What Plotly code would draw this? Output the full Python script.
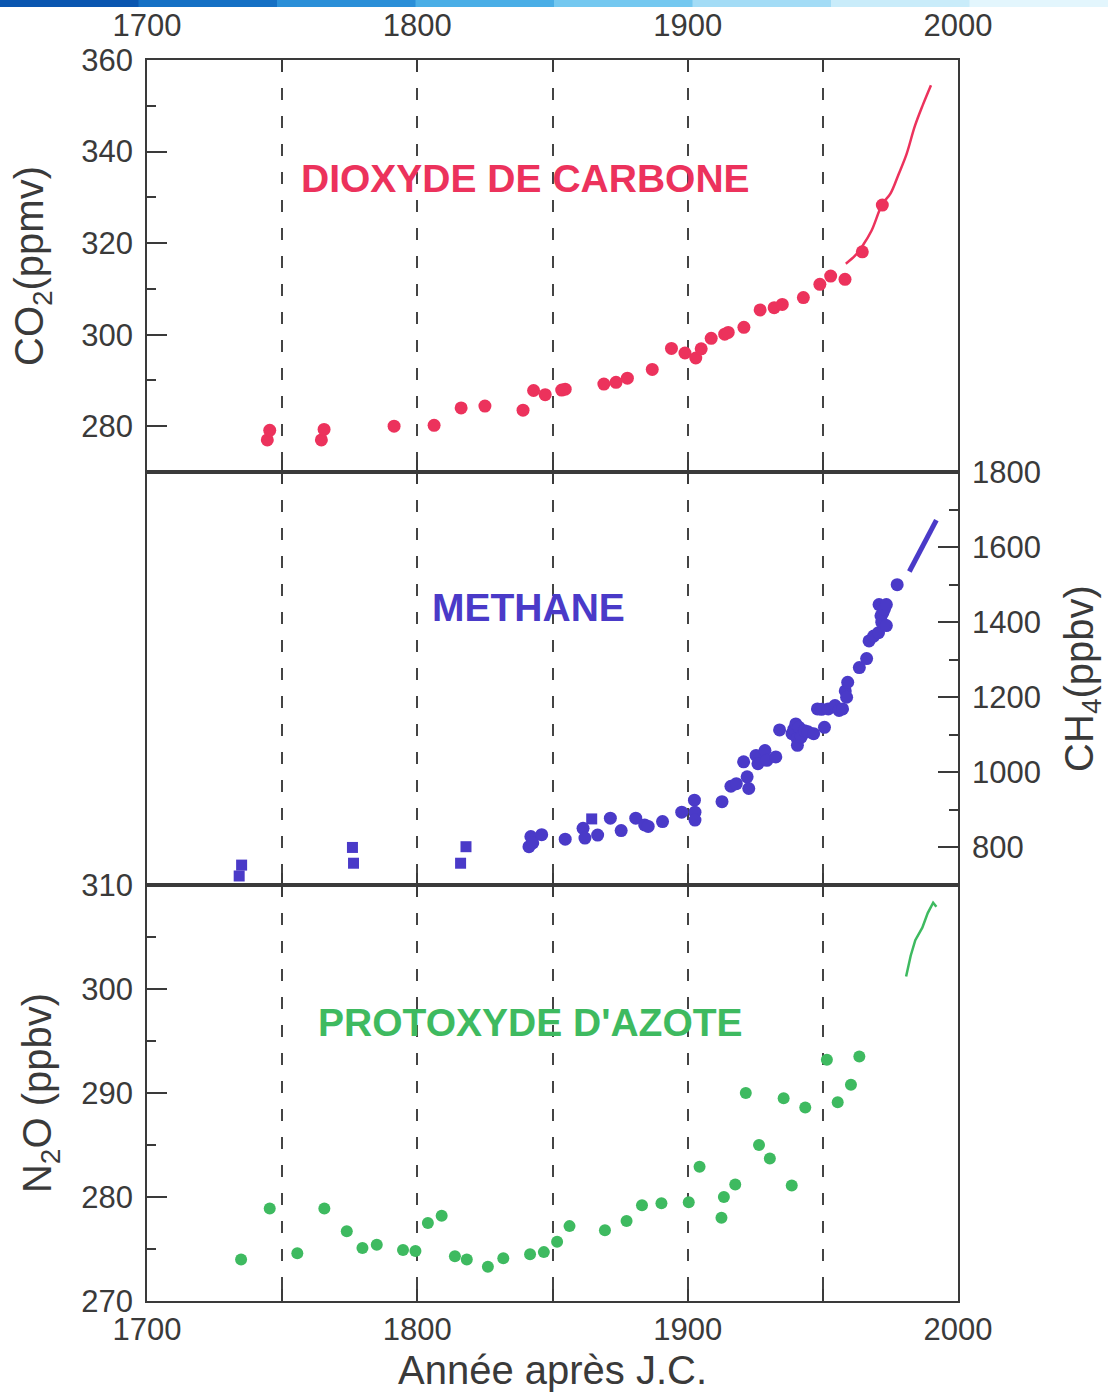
import plotly.graph_objects as go

# ---------------- data ----------------
co2_years = [1744.5, 1745.4, 1764.5, 1765.5, 1791.4, 1806.2, 1816.2, 1825.0, 1839.1, 1843.0,
             1847.3, 1853.4, 1854.7, 1869.0, 1873.5, 1877.7, 1886.9, 1894.0, 1899.0, 1903.0,
             1905.0, 1908.7, 1913.7, 1915.0, 1920.8, 1926.8, 1932.0, 1935.0, 1942.8, 1948.9,
             1952.9, 1958.2, 1964.6, 1972.0]
co2_values = [277.0, 279.1, 277.0, 279.3, 280.0, 280.2, 284.0, 284.4, 283.5, 287.8,
              286.9, 287.9, 288.1, 289.2, 289.6, 290.5, 292.4, 297.0, 296.0, 294.9,
              296.9, 299.2, 300.1, 300.5, 301.6, 305.4, 305.9, 306.6, 308.1, 311.0,
              312.8, 312.1, 318.1, 328.3]
co2_line_years = [1958.5, 1962, 1965, 1968, 1972, 1975, 1978, 1981, 1984, 1987, 1990]
co2_line_values = [315.5, 317.3, 319.7, 322.7, 328.5, 330.8, 335.0, 339.5, 345.5, 350.2, 354.5]

ch4_square_years = [1734.1, 1735.0, 1776.0, 1776.4, 1818.0, 1816.0, 1864.5]
ch4_square_values = [724, 753, 800, 758, 802, 758, 876]
ch4_years = [1841.3, 1842.0, 1842.7, 1846.0, 1854.7, 1861.3, 1862.0, 1866.7, 1871.4, 1875.4,
             1880.8, 1884.1, 1885.4, 1890.7, 1897.8, 1902.5, 1902.7, 1902.7, 1912.7, 1916.0,
             1918.0, 1920.7, 1922.0, 1922.6, 1925.3, 1926.0, 1928.6, 1929.3, 1932.6, 1934.0,
             1938.6, 1939.3, 1940.0, 1940.5, 1940.6, 1941.2, 1942.0, 1943.2, 1944.5, 1946.6,
             1948.0, 1949.5, 1950.6, 1952.0, 1954.5, 1956.0, 1957.3, 1958.3, 1958.8, 1959.2,
             1963.5, 1966.2, 1967.1, 1968.8, 1970.6, 1970.8, 1971.5, 1971.8, 1972.2, 1972.8,
             1973.5, 1973.5, 1977.5]
ch4_values = [802, 829, 812, 834, 822, 851, 825, 833, 878, 845,
              878, 860, 856, 869, 894, 926, 894, 873, 922, 963,
              970, 1028, 988, 957, 1045, 1023, 1058, 1032, 1041, 1113,
              1103, 1115, 1129, 1090, 1072, 1120, 1094, 1111, 1108, 1103,
              1169, 1168, 1120, 1169, 1178, 1165, 1169, 1217, 1200, 1240,
              1279, 1303, 1350, 1363, 1372, 1447, 1417, 1400, 1425, 1435,
              1391, 1447, 1500]
ch4_line_years = [1982, 1984, 1986, 1988, 1990, 1992]
ch4_line_values = [1535, 1562, 1590, 1618, 1645, 1672]

n2o_years = [1734.8, 1745.4, 1755.6, 1765.6, 1773.9, 1779.7, 1785.0, 1794.7, 1799.3, 1803.9,
             1809.0, 1813.9, 1818.3, 1826.1, 1831.8, 1841.7, 1846.8, 1851.7, 1856.3, 1869.4,
             1877.4, 1883.1, 1890.3, 1900.4, 1904.4, 1912.5, 1913.4, 1917.6, 1921.5, 1926.4,
             1930.4, 1935.5, 1938.5, 1943.5, 1951.5, 1955.5, 1960.4, 1963.5]
n2o_values = [274.0, 278.9, 274.6, 278.9, 276.7, 275.1, 275.4, 274.9, 274.8, 277.5,
              278.2, 274.3, 274.0, 273.3, 274.1, 274.5, 274.7, 275.7, 277.2, 276.8,
              277.7, 279.2, 279.4, 279.5, 282.9, 278.0, 280.0, 281.2, 290.0, 285.0,
              283.7, 289.5, 281.1, 288.6, 293.2, 289.1, 290.8, 293.5]
n2o_line_years = [1980.8, 1982.5, 1984.2, 1986.8, 1988.8, 1990.8, 1992.0]
n2o_line_values = [301.2, 303.2, 304.7, 305.9, 307.3, 308.3, 307.9]

x_tickvals = [1700, 1750, 1800, 1850, 1900, 1950, 2000]
x_ticktext = ['1700', '', '1800', '', '1900', '', '2000']
co2_ticks = [280, 300, 320, 340, 360]
ch4_ticks = [800, 1000, 1200, 1400, 1600, 1800]
n2o_ticks = [270, 280, 290, 300, 310]

# ---------------- style ----------------
RED = 'rgb(236,50,92)'
BLUE = 'rgb(74,58,200)'
GREEN = 'rgb(62,186,96)'
AX = '#3a3a3a'
FONT = 'Liberation Sans, Arial, sans-serif'

fig = go.Figure()
fig.add_trace(go.Scatter(x=co2_years, y=co2_values, mode='markers',
                         marker=dict(color=RED, size=13), xaxis='x3', yaxis='y3'))
fig.add_trace(go.Scatter(x=co2_line_years, y=co2_line_values, mode='lines',
                         line=dict(color=RED, width=2.5, shape='spline'), xaxis='x3', yaxis='y3'))
fig.add_trace(go.Scatter(x=ch4_square_years, y=ch4_square_values, mode='markers',
                         marker=dict(color=BLUE, size=11, symbol='square'), xaxis='x2', yaxis='y2'))
fig.add_trace(go.Scatter(x=ch4_years, y=ch4_values, mode='markers',
                         marker=dict(color=BLUE, size=13), xaxis='x2', yaxis='y2'))
fig.add_trace(go.Scatter(x=ch4_line_years, y=ch4_line_values, mode='lines',
                         line=dict(color=BLUE, width=5), xaxis='x2', yaxis='y2'))
fig.add_trace(go.Scatter(x=n2o_years, y=n2o_values, mode='markers',
                         marker=dict(color=GREEN, size=12), xaxis='x', yaxis='y'))
fig.add_trace(go.Scatter(x=n2o_line_years, y=n2o_line_values, mode='lines',
                         line=dict(color=GREEN, width=2.5), xaxis='x', yaxis='y'))

H_PLOT = 1394 - 60 - 93
d1 = 416 / H_PLOT
d2 = (416 + 413) / H_PLOT

common_x = dict(range=[1700, 2000], tickmode='array', tickvals=x_tickvals, ticktext=x_ticktext,
                ticks='inside', ticklen=12, tickwidth=2, tickcolor=AX, automargin=False,
                showline=True, linewidth=1.8, linecolor=AX, mirror='ticks',
                showgrid=True, gridcolor='#444', gridwidth=1.5, griddash='12px,16px',
                zeroline=False, tickfont=dict(size=31, color=AX, family=FONT))

common_y = dict(ticks='inside', ticklen=20, tickwidth=2, tickcolor=AX, automargin=False,
                showline=True, linewidth=1.8, linecolor=AX, mirror=True,
                showgrid=False, zeroline=False, ticklabelstandoff=6,
                tickfont=dict(size=31, color=AX, family=FONT))

fig.update_layout(
    width=1108, height=1394,
    margin=dict(l=147, r=150, t=60, b=93, autoexpand=False),
    paper_bgcolor='white', plot_bgcolor='white',
    showlegend=False,
    font=dict(family=FONT, color=AX),
    xaxis=dict(common_x, anchor='y', domain=[0, 1],
               title=dict(text='Année après J.C.', font=dict(size=40, color=AX, family=FONT), standoff=10)),
    xaxis2=dict(common_x, anchor='y2', matches='x', showticklabels=False),
    xaxis3=dict(common_x, anchor='y3', matches='x', side='top', ticklabelstandoff=10),
    yaxis=dict(common_y, anchor='x', domain=[0, d1], range=[270, 310],
               tickmode='array', tickvals=n2o_ticks,
               minor=dict(tickmode='linear', tick0=270, dtick=5, ticks='inside', ticklen=9,
                          tickwidth=2, tickcolor=AX),
               title=dict(text='N<sub>2</sub>O (ppbv)', font=dict(size=40, color=AX, family=FONT), standoff=17)),
    yaxis2=dict(common_y, anchor='x2', domain=[d1, d2], range=[700, 1800], side='right',
                tickmode='array', tickvals=ch4_ticks,
                minor=dict(tickmode='linear', tick0=700, dtick=100, ticks='inside', ticklen=9,
                           tickwidth=2, tickcolor=AX),
                title=dict(text='CH<sub>4</sub>(ppbv)', font=dict(size=40, color=AX, family=FONT), standoff=25)),
    yaxis3=dict(common_y, anchor='x3', domain=[d2, 1], range=[270, 360],
                tickmode='array', tickvals=co2_ticks,
                minor=dict(tickmode='linear', tick0=270, dtick=10, ticks='inside', ticklen=9,
                           tickwidth=2, tickcolor=AX),
                title=dict(text='CO<sub>2</sub>(ppmv)', font=dict(size=40, color=AX, family=FONT), standoff=25)),
)

fig.add_annotation(text='<b>DIOXYDE DE CARBONE</b>', x=1840, y=334.2, xref='x3', yref='y3',
                   showarrow=False, font=dict(size=39, color=RED, family=FONT))
fig.add_annotation(text='<b>METHANE</b>', x=1841, y=1440, xref='x2', yref='y2',
                   showarrow=False, font=dict(size=39, color=BLUE, family=FONT))
fig.add_annotation(text="<b>PROTOXYDE D'AZOTE</b>", x=1842, y=296.8, xref='x', yref='y',
                   showarrow=False, font=dict(size=39, color=GREEN, family=FONT))

# thin blue banner at the very top of the scanned page
band_cols = ['#0a56b0', '#1570c4', '#2a8fd8', '#4aaee6', '#74c8f0', '#a3dcf6', '#c9ecfa', '#e3f6fd']
W = 1108 / len(band_cols)
for i, c in enumerate(band_cols):
    fig.add_shape(type='rect', xref='paper', yref='paper',
                  x0=(i * W - 147) / 811, x1=((i + 1) * W - 147) / 811 + 0.002,
                  y0=1 + 53 / H_PLOT, y1=1 + 60 / H_PLOT,
                  fillcolor=c, line=dict(width=0), layer='above')

fig.write_html('out.html')
